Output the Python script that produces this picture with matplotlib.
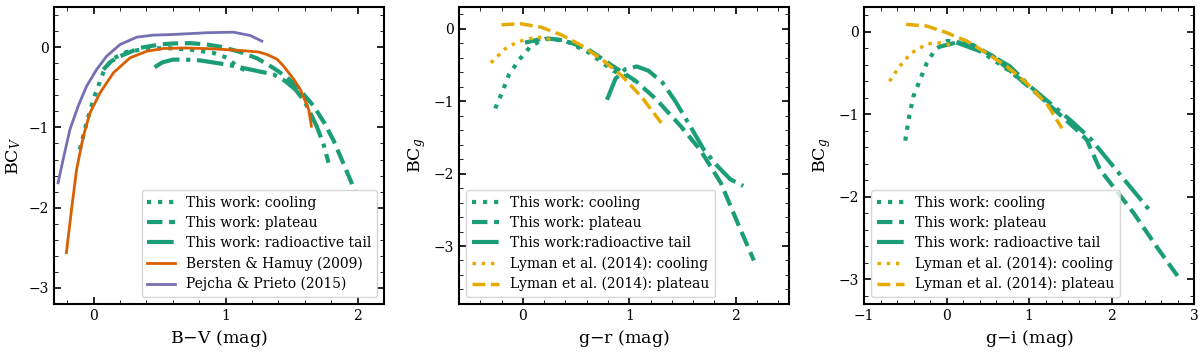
import matplotlib.pyplot as plt
from matplotlib.ticker import MultipleLocator, AutoMinorLocator

plt.rcParams['font.family'] = 'DejaVu Serif'
plt.rcParams['mathtext.fontset'] = 'dejavuserif'

green = '#1b9e77'
orange = '#d95f02'
purple = '#7570b3'
yellow = '#e6ab02'

# ---- panel 1: BC_V vs B-V
bv_cool_x = [-0.104, -0.053, -0.002, 0.049, 0.087, 0.15, 0.25, 0.40, 0.55, 0.73, 0.906, 1.008, 1.085, 1.16]
bv_cool_y = [-1.275, -0.943, -0.652, -0.424, -0.257, -0.14, -0.06, -0.02, -0.01, -0.03, -0.07, -0.13, -0.237, -0.30]
bv_plat_x = [0.074, 0.13, 0.201, 0.353, 0.506, 0.60, 0.73, 0.856, 0.98, 1.11, 1.24, 1.363, 1.46, 1.54,
             1.668, 1.75, 1.82, 1.90, 1.98]
bv_plat_y = [-0.278, -0.18, -0.112, -0.008, 0.034, 0.046, 0.05, 0.034, 0.0, -0.06, -0.14, -0.26, -0.37, -0.49,
             -0.735, -0.95, -1.17, -1.48, -1.79]
bv_tail_x = [0.462, 0.52, 0.60, 0.70, 0.805, 1.008, 1.186, 1.363, 1.45, 1.53, 1.60, 1.69, 1.74, 1.78]
bv_tail_y = [-0.25, -0.19, -0.155, -0.155, -0.165, -0.216, -0.278, -0.34, -0.42, -0.53, -0.68, -0.985, -1.2, -1.44]
bh09_x = [-0.206, -0.167, -0.129, -0.078, -0.027, 0.049, 0.15, 0.277, 0.404, 0.531, 0.70, 0.90, 1.11, 1.25,
          1.313, 1.39, 1.44, 1.516, 1.567, 1.63, 1.65]
bh09_y = [-2.56, -2.02, -1.525, -1.11, -0.818, -0.569, -0.319, -0.132, -0.05, -0.016, -0.01, -0.02, -0.041, -0.06,
          -0.091, -0.15, -0.237, -0.40, -0.53, -0.78, -0.985]
pp15_x = [-0.269, -0.231, -0.18, -0.117, -0.053, 0.023, 0.099, 0.201, 0.327, 0.45, 0.60, 0.856, 1.059, 1.186, 1.275]
pp15_y = [-1.69, -1.40, -1.03, -0.735, -0.486, -0.278, -0.112, 0.034, 0.125, 0.15, 0.158, 0.18, 0.187, 0.146, 0.075]

# ---- panel 2: BC_g vs g-r
gr_cool_x = [-0.26, -0.19, -0.13, -0.03, 0.08, 0.21, 0.39, 0.61, 0.74, 0.85, 1.05]
gr_cool_y = [-1.10, -0.86, -0.63, -0.42, -0.23, -0.14, -0.16, -0.32, -0.46, -0.58, -0.72]
gr_plat_x = [0.02, 0.21, 0.39, 0.61, 0.84, 1.06, 1.25, 1.48, 1.67, 1.86, 2.02, 2.17]
gr_plat_y = [-0.19, -0.13, -0.16, -0.28, -0.51, -0.72, -0.97, -1.34, -1.68, -2.13, -2.69, -3.20]
gr_tail_x = [0.79, 0.87, 0.96, 1.07, 1.18, 1.31, 1.43, 1.59, 1.70, 1.83, 1.95, 2.07]
gr_tail_y = [-0.98, -0.69, -0.56, -0.52, -0.58, -0.74, -0.995, -1.39, -1.67, -1.90, -2.08, -2.17]
gr_lcool_x = [-0.30, -0.17, -0.05, 0.11, 0.22, 0.29]
gr_lcool_y = [-0.47, -0.28, -0.18, -0.12, -0.12, -0.19]
gr_lplat_x = [-0.20, -0.02, 0.17, 0.36, 0.55, 0.74, 0.93, 1.12, 1.30]
gr_lplat_y = [0.056, 0.069, 0.023, -0.083, -0.23, -0.42, -0.65, -0.95, -1.30]

# ---- panel 3: BC_g vs g-i
gi_cool_x = [-0.50, -0.45, -0.40, -0.32, -0.24, -0.14, 0.01, 0.16, 0.32, 0.57, 0.77, 0.97, 1.00]
gi_cool_y = [-1.32, -1.01, -0.78, -0.58, -0.38, -0.22, -0.11, -0.13, -0.18, -0.34, -0.48, -0.64, -0.70]
gi_plat_x = [-0.08, 0.12, 0.32, 0.57, 0.85, 1.13, 1.38, 1.58, 1.70, 1.86, 2.27, 2.55, 2.80]
gi_plat_y = [-0.18, -0.13, -0.16, -0.30, -0.54, -0.78, -1.01, -1.19, -1.31, -1.67, -2.20, -2.61, -2.96]
gi_tail_x = [0.12, 0.53, 0.77, 1.01, 1.26, 1.50, 1.74, 2.07, 2.45]
gi_tail_y = [-0.13, -0.28, -0.42, -0.66, -0.87, -1.07, -1.29, -1.69, -2.15]
gi_lcool_x = [-0.69, -0.57, -0.43, -0.24, -0.12, 0.02, 0.08]
gi_lcool_y = [-0.60, -0.42, -0.26, -0.15, -0.13, -0.15, -0.22]
gi_lplat_x = [-0.49, -0.24, 0.0, 0.24, 0.49, 0.73, 0.97, 1.22, 1.40]
gi_lplat_y = [0.09, 0.07, -0.01, -0.11, -0.26, -0.42, -0.62, -0.88, -1.17]

fig = plt.figure(figsize=(12, 3.53), dpi=100)
ax1 = fig.add_axes([0.045, 0.139, 0.275, 0.841])
ax2 = fig.add_axes([0.3825, 0.139, 0.275, 0.841])
ax3 = fig.add_axes([0.72, 0.139, 0.275, 0.841])

leg_kw = dict(fontsize=10, labelspacing=0.45, handlelength=2.0)

ax1.plot(bv_cool_x, bv_cool_y, color=green, lw=3, ls=':', label='This work: cooling')
ax1.plot(bv_plat_x, bv_plat_y, color=green, lw=3, ls='--', label='This work: plateau')
ax1.plot(bv_tail_x, bv_tail_y, color=green, lw=3, ls='-.', label='This work: radioactive tail')
ax1.plot(bh09_x, bh09_y, color=orange, lw=2, label='Bersten & Hamuy (2009)')
ax1.plot(pp15_x, pp15_y, color=purple, lw=2, label='Pejcha & Prieto (2015)')
ax1.set_xlim(-0.3, 2.2)
ax1.set_ylim(-3.2, 0.5)
ax1.set_xlabel('B$-$V (mag)')
ax1.set_ylabel('BC$_V$')
ax1.legend(loc='lower right', **leg_kw)

ax2.plot(gr_cool_x, gr_cool_y, color=green, lw=3, ls=':', label='This work: cooling')
ax2.plot(gr_plat_x, gr_plat_y, color=green, lw=3, ls='--', label='This work: plateau')
ax2.plot(gr_tail_x, gr_tail_y, color=green, lw=3, ls='-.', label='This work:radioactive tail')
ax2.plot(gr_lcool_x, gr_lcool_y, color=yellow, lw=2.5, ls=':', label='Lyman et al. (2014): cooling')
ax2.plot(gr_lplat_x, gr_lplat_y, color=yellow, lw=2.5, ls='--', label='Lyman et al. (2014): plateau')
ax2.set_xlim(-0.6, 2.5)
ax2.set_ylim(-3.8, 0.3)
ax2.set_xlabel('g$-$r (mag)')
ax2.set_ylabel('BC$_g$')
ax2.legend(loc='lower left', **leg_kw)

ax3.plot(gi_cool_x, gi_cool_y, color=green, lw=3, ls=':', label='This work: cooling')
ax3.plot(gi_plat_x, gi_plat_y, color=green, lw=3, ls='--', label='This work: plateau')
ax3.plot(gi_tail_x, gi_tail_y, color=green, lw=3, ls='-.', label='This work: radioactive tail')
ax3.plot(gi_lcool_x, gi_lcool_y, color=yellow, lw=2.5, ls=':', label='Lyman et al. (2014): cooling')
ax3.plot(gi_lplat_x, gi_lplat_y, color=yellow, lw=2.5, ls='--', label='Lyman et al. (2014): plateau')
ax3.set_xlim(-1, 3)
ax3.set_ylim(-3.3, 0.3)
ax3.set_xlabel('g$-$i (mag)')
ax3.set_ylabel('BC$_g$')
ax3.legend(loc='lower left', **leg_kw)

for ax in (ax1, ax2, ax3):
    ax.xaxis.set_major_locator(MultipleLocator(1))
    ax.yaxis.set_major_locator(MultipleLocator(1))
    ax.xaxis.set_minor_locator(AutoMinorLocator(5))
    ax.yaxis.set_minor_locator(AutoMinorLocator(5))
    ax.tick_params(which='both', direction='in', top=True, right=True, labelsize=10)
    ax.tick_params(which='major', length=5, width=1.2)
    ax.tick_params(which='minor', length=3)
    ax.xaxis.label.set_size(12.5)
    ax.yaxis.label.set_size(12.5)
    for s in ax.spines.values():
        s.set_linewidth(1.5)

plt.savefig('out.png')
